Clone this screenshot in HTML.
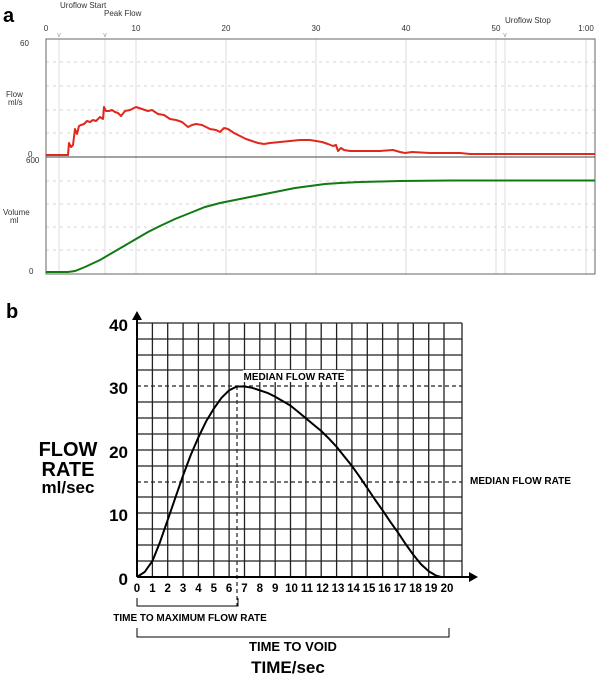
<!DOCTYPE html>
<html><head><meta charset="utf-8"><style>
html,body{margin:0;padding:0;background:#fff;}
svg{display:block;font-family:"Liberation Sans",Arial,sans-serif;}
</style></head><body>
<svg width="600" height="676" viewBox="0 0 600 676" xmlns="http://www.w3.org/2000/svg">
<rect width="600" height="676" fill="#fff"/>
<!-- Panel a -->
<text x="3" y="22" font-size="20" font-weight="bold">a</text>
<text x="60" y="8" font-size="8" fill="#333">Uroflow Start</text>
<text x="104" y="16" font-size="8" fill="#333">Peak Flow</text>
<text x="505" y="23" font-size="8" fill="#333">Uroflow Stop</text>
<g font-size="8" fill="#333" text-anchor="middle">
<text x="46" y="31">0</text><text x="136" y="31">10</text><text x="226" y="31">20</text>
<text x="316" y="31">30</text><text x="406" y="31">40</text><text x="496" y="31">50</text><text x="586" y="31">1:00</text>
</g>
<g font-size="7" fill="#999" text-anchor="middle">
<text x="59" y="37">v</text><text x="105" y="37">v</text><text x="505" y="37">v</text>
</g>
<g stroke="#d4d4d4" stroke-width="1" stroke-dasharray="3,4">
<line x1="46" y1="62" x2="595" y2="62"/><line x1="46" y1="86" x2="595" y2="86"/><line x1="46" y1="110" x2="595" y2="110"/><line x1="46" y1="133" x2="595" y2="133"/>
<line x1="46" y1="181" x2="595" y2="181"/><line x1="46" y1="204" x2="595" y2="204"/><line x1="46" y1="227" x2="595" y2="227"/><line x1="46" y1="250" x2="595" y2="250"/>
</g>
<g stroke="#dcdcdc" stroke-width="1">
<line x1="59" y1="39" x2="59" y2="274"/><line x1="105" y1="39" x2="105" y2="274"/>
<line x1="136" y1="39" x2="136" y2="274"/><line x1="226" y1="39" x2="226" y2="274"/><line x1="316" y1="39" x2="316" y2="274"/>
<line x1="406" y1="39" x2="406" y2="274"/><line x1="496" y1="39" x2="496" y2="274"/><line x1="505" y1="39" x2="505" y2="274"/><line x1="586" y1="39" x2="586" y2="274"/>
</g>
<rect x="46" y="39" width="549" height="235" fill="none" stroke="#666" stroke-width="1"/>
<line x1="46" y1="157" x2="595" y2="157" stroke="#444" stroke-width="1"/>
<g font-size="8" fill="#333">
<text x="20" y="46">60</text><text x="28" y="157">0</text><text x="26" y="163">600</text><text x="29" y="274">0</text>
<text x="6" y="97">Flow</text><text x="8" y="105">ml/s</text>
<text x="3" y="215">Volume</text><text x="10" y="223">ml</text>
</g>
<polyline fill="none" stroke="#e0281e" stroke-width="2" stroke-linejoin="round" points="46,155 68,155 69,143 71,147 73,145 75,129 77,134 79,126 81,125 84,124 87,121 90,122 93,120 96,121 100,117 103,119 104,107 106,111 109,111 112,110 115,112 118,113 121,116 125,111 130,110 136,107 142,109 148,111 152,110 158,114 164,115 170,119 176,120 182,122 188,127 192,125 196,124 202,125 206,127 210,129 216,130 220,132 224,128 228,129 234,133 240,136 246,139 252,141 258,143 264,144 270,143 280,142 290,141 300,140 310,140 316,141 322,142 328,144 333,146 336,145 338,151 341,148 344,150 350,151 360,151 380,151 393,150 400,152 405,153 412,152 430,153 460,153 470,154 480,154 496,154 520,154 560,154 595,154"/>
<polyline fill="none" stroke="#127a12" stroke-width="2" points="46,272 68,272 75,271 85,267 100,260 112,253 124,246 136,239 148,232 160,226 175,219 190,213 205,207 220,203 235,200 250,197 265,194 280,191 295,188 310,186 325,184 340,183 360,182 380,181.5 400,181 450,180.5 500,180.5 595,180.5"/>
<!-- Panel b -->
<text x="6" y="318" font-size="20" font-weight="bold">b</text>
<g stroke="#222" stroke-width="1.3">
<line x1="137" y1="323" x2="462" y2="323"/><line x1="137" y1="339" x2="462" y2="339"/><line x1="137" y1="355" x2="462" y2="355"/><line x1="137" y1="370" x2="462" y2="370"/>
<line x1="137" y1="402" x2="462" y2="402"/><line x1="137" y1="418" x2="462" y2="418"/><line x1="137" y1="434" x2="462" y2="434"/>
<line x1="137" y1="450" x2="462" y2="450"/><line x1="137" y1="466" x2="462" y2="466"/><line x1="137" y1="497" x2="462" y2="497"/>
<line x1="137" y1="513" x2="462" y2="513"/><line x1="137" y1="529" x2="462" y2="529"/><line x1="137" y1="545" x2="462" y2="545"/><line x1="137" y1="561" x2="462" y2="561"/>
</g>
<g stroke="#222" stroke-width="1.3">
<line x1="152.4" y1="323" x2="152.4" y2="577"/><line x1="167.7" y1="323" x2="167.7" y2="577"/><line x1="183.1" y1="323" x2="183.1" y2="577"/><line x1="198.4" y1="323" x2="198.4" y2="577"/>
<line x1="213.8" y1="323" x2="213.8" y2="577"/><line x1="229.1" y1="323" x2="229.1" y2="577"/><line x1="244.5" y1="323" x2="244.5" y2="577"/><line x1="259.8" y1="323" x2="259.8" y2="577"/>
<line x1="275.2" y1="323" x2="275.2" y2="577"/><line x1="290.5" y1="323" x2="290.5" y2="577"/><line x1="305.9" y1="323" x2="305.9" y2="577"/><line x1="321.2" y1="323" x2="321.2" y2="577"/>
<line x1="336.6" y1="323" x2="336.6" y2="577"/><line x1="351.9" y1="323" x2="351.9" y2="577"/><line x1="367.3" y1="323" x2="367.3" y2="577"/><line x1="382.6" y1="323" x2="382.6" y2="577"/>
<line x1="398" y1="323" x2="398" y2="577"/><line x1="413.3" y1="323" x2="413.3" y2="577"/><line x1="428.7" y1="323" x2="428.7" y2="577"/><line x1="444" y1="323" x2="444" y2="577"/>
<line x1="462" y1="323" x2="462" y2="577"/>
</g>
<rect x="243" y="370" width="103" height="12" fill="#fff"/>
<g stroke="#222" stroke-width="1.2" stroke-dasharray="4,3">
<line x1="137" y1="386" x2="462" y2="386"/><line x1="137" y1="482" x2="462" y2="482"/>
<line x1="237" y1="386" x2="237" y2="606"/>
</g>
<line x1="137" y1="577" x2="472" y2="577" stroke="#000" stroke-width="2"/>
<polygon points="478,577 469,572 469,582" fill="#000"/>
<line x1="137" y1="577" x2="137" y2="318" stroke="#000" stroke-width="2"/>
<polygon points="137,311 132,320 142,320" fill="#000"/>
<polyline fill="none" stroke="#000" stroke-width="2" stroke-linejoin="round" points="137,577 144.7,571.9 152.4,561.1 160,542.1 167.7,519.9 175.4,497.6 183.1,475.4 190.7,455.1 198.4,437.3 206.1,421.4 213.8,408.7 221.4,397.9 229.1,390.3 236.8,386.5 244.5,386.5 252.1,387.8 259.8,390.3 267.5,392.9 275.2,396.7 282.8,401.1 290.5,405.6 298.2,411.9 305.9,418.3 313.5,424.6 321.2,431 328.9,438.6 336.6,446.8 344.2,456.4 351.9,465.9 359.6,476.7 367.3,488.1 374.9,499.5 382.6,510.3 390.3,521.8 398,532.6 405.6,544 413.3,554.8 421,564.3 428.7,571.3 436.3,575.7 441,577"/>
<text x="294" y="380" font-size="10" font-weight="bold" text-anchor="middle">MEDIAN FLOW RATE</text>
<text x="470" y="484" font-size="10" font-weight="bold">MEDIAN FLOW RATE</text>
<g font-size="17" font-weight="bold" text-anchor="end">
<text x="128" y="331">40</text><text x="128" y="394">30</text><text x="128" y="458">20</text><text x="128" y="521">10</text><text x="128" y="585">0</text>
</g>
<g font-size="20" font-weight="bold" text-anchor="middle">
<text x="68" y="456">FLOW</text><text x="68" y="476">RATE</text>
</g>
<text x="68" y="493" font-size="17" font-weight="bold" text-anchor="middle">ml/sec</text>
<g font-size="11.5" font-weight="bold" text-anchor="middle">
<text x="137" y="592">0</text><text x="152.4" y="592">1</text><text x="167.7" y="592">2</text><text x="183.1" y="592">3</text><text x="198.4" y="592">4</text>
<text x="213.8" y="592">5</text><text x="229.1" y="592">6</text><text x="244.5" y="592">7</text><text x="259.8" y="592">8</text><text x="275.2" y="592">9</text>
<text x="291.5" y="592">10</text><text x="307" y="592">11</text><text x="322.5" y="592">12</text><text x="338" y="592">13</text><text x="353.5" y="592">14</text>
<text x="369" y="592">15</text><text x="384.5" y="592">16</text><text x="400" y="592">17</text><text x="415.5" y="592">18</text><text x="431" y="592">19</text><text x="447" y="592">20</text>
</g>
<polyline fill="none" stroke="#000" stroke-width="1" points="137,598 137,606 238,606 238,598"/>
<text x="190" y="621" font-size="10" font-weight="bold" text-anchor="middle">TIME TO MAXIMUM FLOW RATE</text>
<polyline fill="none" stroke="#000" stroke-width="1" points="137,628 137,637 449,637 449,628"/>
<text x="293" y="651" font-size="13" font-weight="bold" text-anchor="middle">TIME TO VOID</text>
<text x="288" y="673" font-size="17" font-weight="bold" text-anchor="middle">TIME/sec</text>
</svg>
</body></html>
